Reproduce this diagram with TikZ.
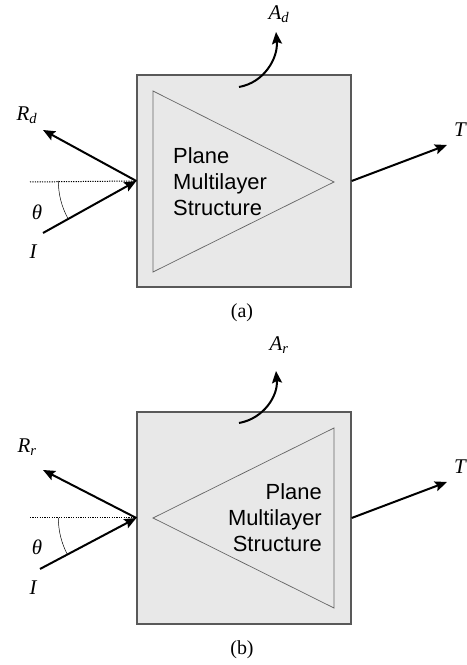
\documentclass[tikz,border=0pt]{standalone}
\usepackage{fontspec}
\setmainfont{Liberation Serif}
\newfontfamily\armfont{Liberation Sans}
\usetikzlibrary{arrows.meta}

\begin{document}
\begin{tikzpicture}[x=1bp,y=1bp,
  layerbox/.style={draw=black!65,line width=1.3bp,fill=black!9,
    minimum width=214bp,minimum height=212bp,inner sep=0pt},
  ray/.style={line width=2bp,-{Stealth[length=12bp,width=10bp,inset=2bp]}},
  wedge/.style={draw=black!60,line width=0.7bp},
  normal/.style={line width=1bp,dash pattern=on 1.2bp off 1.2bp},
  lbl/.style={font=\fontsize{21}{24}\selectfont\itshape,inner sep=0pt},
  caption/.style={font=\fontsize{20}{22}\selectfont,inner sep=0pt},
  intext/.style={font=\armfont\fontsize{22}{26}\selectfont,inner sep=0pt}]
  \useasboundingbox (0,0) rectangle (467,665);
  % (a)
  \node[layerbox] (boxa) at (244,484) {};
  \draw[wedge] (153,574) -- (153,393) -- (334,483) -- cycle;
  \node[intext,align=left,anchor=west] (texta) at (173,483)
    {Plane\\Multilayer\\Structure};
  \coordinate (ia) at (43,432);
  \coordinate (ra) at (43,535);
  \coordinate (ta) at (447,520);
  \coordinate (aa0) at (239,578);
  \coordinate (aa) at (276,633);
  \coordinate (na) at (30,483);
  \draw[normal] (na) -- (boxa.west);
  \draw[line width=0.5bp] ([xshift=-78bp]boxa.west) arc[start angle=180,end angle=208.5,radius=78bp];
  \draw[ray] (ia) -- (boxa.west);
  \draw[ray] (boxa.west) -- (ra);
  \draw[ray] (boxa.east) -- (ta);
  \draw[ray] (aa0) to[out=10,in=-85] (aa);
  \node[lbl] (la) at (279,651) {A\textsubscript{\itshape d}};
  \node[lbl] (lra) at (27,550) {R\textsubscript{\itshape d}};
  \node[lbl] (lta) at (460,535) {T};
  \node[lbl] (lia) at (33,413) {I};
  \node[lbl] (tha) at (37,453) {θ};
  \node[caption] (capa) at (242,352) {(a)};
  % (b)
  \node[layerbox] (boxb) at (244,147) {};
  \draw[wedge] (334,237) -- (334,57) -- (153,147) -- cycle;
  \node[intext,align=right,anchor=east] (textb) at (322,147)
    {Plane\\Multilayer\\Structure};
  \coordinate (ib) at (40,96);
  \coordinate (rb) at (43,195);
  \coordinate (tb) at (447,183);
  \coordinate (ab0) at (239,242);
  \coordinate (ab) at (276,294);
  \coordinate (nb) at (30,147);
  \draw[normal] (nb) -- (boxb.west);
  \draw[line width=0.5bp] ([xshift=-78bp]boxb.west) arc[start angle=180,end angle=208,radius=78bp];
  \draw[ray] (ib) -- (boxb.west);
  \draw[ray] (boxb.west) -- (rb);
  \draw[ray] (boxb.east) -- (tb);
  \draw[ray] (ab0) to[out=10,in=-85] (ab);
  \node[lbl] (lb) at (279,320) {A\textsubscript{\itshape r}};
  \node[lbl] (lrb) at (27,218) {R\textsubscript{\itshape r}};
  \node[lbl] (ltb) at (460,198) {T};
  \node[lbl] (lib) at (33,77) {I};
  \node[lbl] (thb) at (37,118) {θ};
  \node[caption] (capb) at (242,15) {(b)};
\end{tikzpicture}
\end{document}
